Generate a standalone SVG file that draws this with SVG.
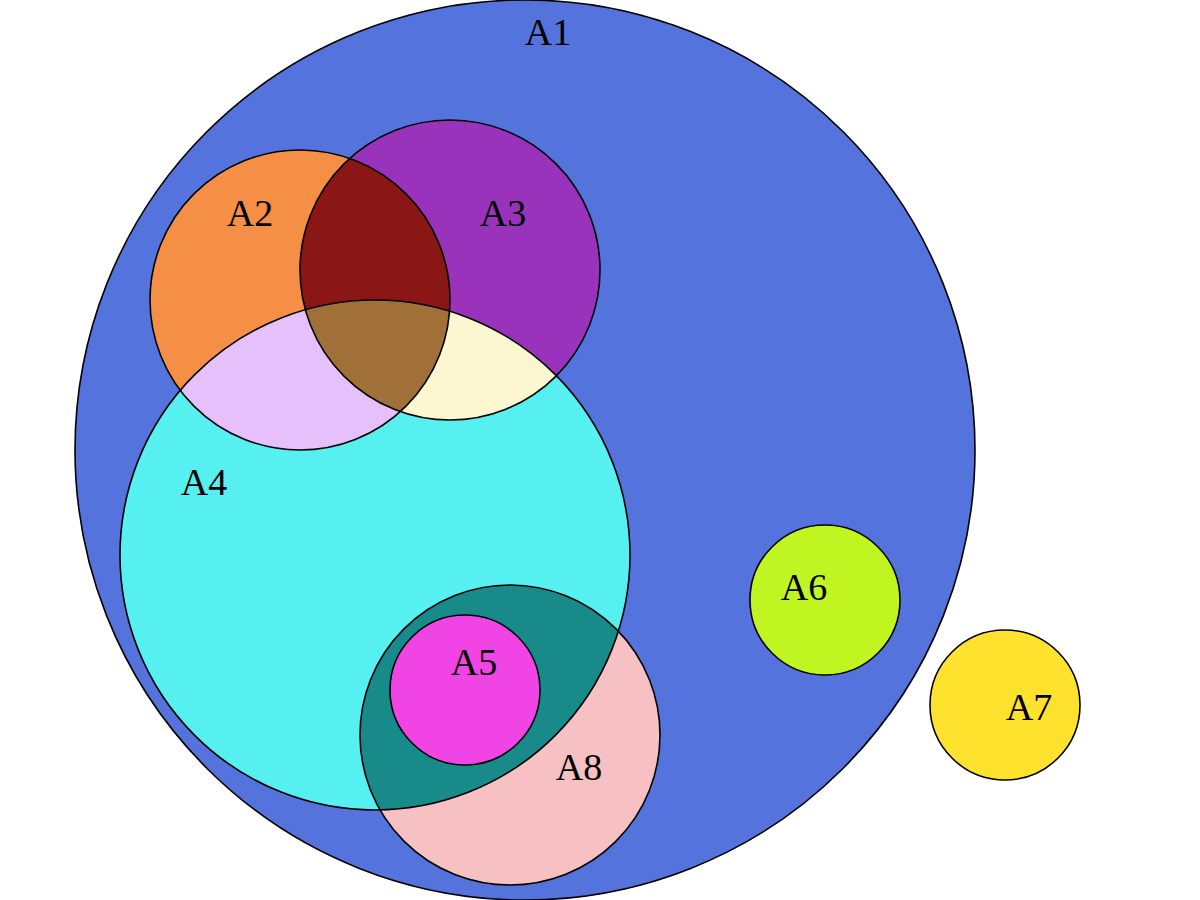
<svg xmlns="http://www.w3.org/2000/svg" width="1200" height="900" viewBox="0 0 1200 900">
<style>
.lbl{font-family:"Liberation Serif","Times New Roman",serif;font-size:38px;fill:#000;text-anchor:middle}
.ol{fill:none;stroke:#000;stroke-width:1.6}
</style>
<defs>
<clipPath id="cA2"><circle cx="300" cy="300" r="150"/></clipPath>
<clipPath id="cA3"><circle cx="450" cy="270" r="150"/></clipPath>
<clipPath id="cA4"><circle cx="375" cy="555" r="255"/></clipPath>
</defs>
<rect width="1200" height="900" fill="#fff"/>
<g id="A1"><circle cx="525" cy="450" r="450" fill="#5573dc"/><text class="lbl" x="548" y="45">A1</text></g>
<g id="A2"><circle cx="300" cy="300" r="150" fill="#f58f45"/><text class="lbl" x="250" y="226">A2</text></g>
<g id="A3"><circle cx="450" cy="270" r="150" fill="#9933bb"/><text class="lbl" x="503" y="226">A3</text></g>
<g id="A4"><circle cx="375" cy="555" r="255" fill="#56f0f0"/><text class="lbl" x="204" y="495">A4</text></g>
<g id="A8"><circle cx="510" cy="735" r="150" fill="#f7c1c3"/><text class="lbl" x="579" y="780">A8</text></g>
<g id="overlaps">
<circle cx="450" cy="270" r="150" fill="#8b1616" clip-path="url(#cA2)"/>
<circle cx="375" cy="555" r="255" fill="#e6c0fa" clip-path="url(#cA2)"/>
<circle cx="375" cy="555" r="255" fill="#fcf7d0" clip-path="url(#cA3)"/>
<g clip-path="url(#cA2)"><circle cx="375" cy="555" r="255" fill="#a07038" clip-path="url(#cA3)"/></g>
<circle cx="510" cy="735" r="150" fill="#188a8a" clip-path="url(#cA4)"/>
</g>
<g id="A5"><circle cx="465" cy="690" r="75" fill="#f044e4"/><text class="lbl" x="474" y="675">A5</text></g>
<g id="A6"><circle cx="825" cy="600" r="75" fill="#c0f522"/><text class="lbl" x="804" y="600">A6</text></g>
<g id="A7"><circle cx="1005" cy="705" r="75" fill="#ffe22e"/><text class="lbl" x="1029" y="720">A7</text></g>
<g id="outlines">
<circle class="ol" cx="525" cy="450" r="450"/>
<circle class="ol" cx="300" cy="300" r="150"/>
<circle class="ol" cx="450" cy="270" r="150"/>
<circle class="ol" cx="375" cy="555" r="255"/>
<circle class="ol" cx="510" cy="735" r="150"/>
<circle class="ol" cx="465" cy="690" r="75"/>
<circle class="ol" cx="825" cy="600" r="75"/>
<circle class="ol" cx="1005" cy="705" r="75"/>
</g>
</svg>
